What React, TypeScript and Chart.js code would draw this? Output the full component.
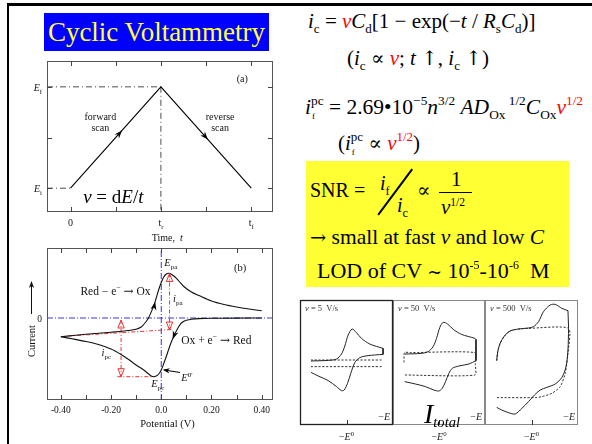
import React, { useEffect, useRef } from "react";
import { Chart, registerables } from "chart.js";

Chart.register(...registerables);

const SERIF = '"Liberation Serif", "Times New Roman", Times, "DejaVu Serif", serif';
const SYM = '"DejaVu Serif", "Liberation Serif", serif';

// ===== (a) triangular potential waveform =====
const waveTimes = [0, 1, 2]; // 0, t_r, t_f
const wavePotentials = [0, 2, 0]; // E_i -> E_f -> E_i
const waveTimeTicks = [0, 0.5, 1, 1.5, 2];
const waveTimeLabels = ["0", "", "t_{r}", "", "t_{f}"];
const wavePotentialTicks = [0, 1, 2];
const wavePotentialLabels = ["*E*_{i}", "", "*E*_{f}"];

// ===== (b) cyclic voltammogram =====
const cvForwardE = [-0.40, -0.35, -0.30, -0.25, -0.20, -0.15, -0.10, -0.08, -0.07, -0.06, -0.05, -0.04, -0.03, -0.02, -0.01, 0.0, 0.01, 0.02, 0.03, 0.04, 0.055, 0.07, 0.09, 0.12, 0.15, 0.20, 0.25, 0.30, 0.35, 0.40];
const cvForwardI = [-1.87, -1.75, -1.62, -1.52, -1.42, -1.3, -1.12, -0.9, -0.65, -0.35, 0.05, 0.6, 1.2, 2.0, 2.85, 3.55, 4.1, 4.4, 4.47, 4.38, 4.1, 3.7, 3.15, 2.6, 2.25, 1.7, 1.35, 1.1, 0.9, 0.73];
const cvReverseE = [0.40, 0.30, 0.20, 0.15, 0.12, 0.10, 0.09, 0.08, 0.07, 0.06, 0.05, 0.04, 0.03, 0.02, 0.01, 0.0, -0.01, -0.02, -0.03, -0.04, -0.05, -0.07, -0.10, -0.13, -0.16, -0.20, -0.25, -0.30, -0.35, -0.40];
const cvReverseI = [0.0, -0.01, -0.03, -0.06, -0.12, -0.22, -0.32, -0.5, -0.85, -1.3, -1.8, -2.4, -3.1, -3.85, -4.55, -5.2, -5.6, -5.8, -5.87, -5.8, -5.6, -5.2, -4.7, -4.15, -3.65, -3.1, -2.65, -2.35, -2.1, -1.87];
const cvBaselineE = [-0.37, 0.04];
const cvBaselineI = [-1.8, -1.15];
const cvPeakE = [0.033, -0.16]; // where i_pa and i_pc are measured
const cvPeakTopI = [4.45, -0.2];
const cvPeakBottomI = [-1.2, -5.87];
const cvCathodicGuideE = [-0.175, -0.03];
const cvPotentialTicks = [-0.4, -0.3, -0.2, -0.1, 0, 0.1, 0.2, 0.3, 0.4];
const cvPotentialLabels = ["-0.40", "", "-0.20", "", "0.0", "", "0.20", "", "0.40"];

// ===== scan-rate panels (normalised 0-100 units) =====
const panelRates = ["5", "50", "500"];
const p5ForwardE = [11.8, 30.4, 39.3, 44.6, 48.2, 51.8, 56.1, 60.7, 66.1, 75, 89.3];
const p5ForwardI = [51.2, 51.7, 52.8, 56.8, 63.2, 72, 76.8, 73.9, 69.3, 64.8, 61.3];
const p5ReverseE = [89.3, 73.2, 64.3, 58.9, 54.6, 51.1, 47.5, 44.6, 39.3, 30.4, 19.6, 11.8];
const p5ReverseI = [56.5, 55.5, 53.9, 49.9, 41.3, 33.3, 28, 27.5, 30.7, 35.5, 39.2, 42.1];
const p5ChargeUpperE = [11.8, 88.2];
const p5ChargeUpperI = [52, 52];
const p5ChargeLowerE = [11.8, 88.2];
const p5ChargeLowerI = [46.7, 46.7];

const p50ForwardE = [12.7, 30.9, 38.2, 43.6, 47.3, 50.9, 54.5, 59.3, 65.5, 74.5, 89.1, 90.2];
const p50ForwardI = [56.8, 57.3, 58.7, 62.7, 69.3, 78.1, 82.1, 80.8, 76.5, 72.5, 69.3, 68.5];
const p50ReverseE = [90.2, 82.5, 71.6, 64.4, 60.7, 57.1, 53.5, 49.8, 44.4, 35.3, 24.4, 12.7];
const p50ReverseI = [51.5, 48.8, 47.2, 45.3, 41.3, 34.7, 29.3, 27.2, 28, 30.7, 32.8, 34.7];
const p50ChargeE = [12, 12.5, 20, 89.1, 89.4, 89.1, 12];
const p50ChargeI = [50, 57.9, 57.9, 57.9, 49, 40, 40];

const p500ForwardE = [12.6, 13.7, 16.2, 20.9, 27, 36, 46.8, 52.2, 57.6, 62.9, 70.1, 75.5, 82.7, 89.2];
const p500ForwardI = [51.5, 58.7, 65.3, 71.2, 75.2, 76.8, 77.6, 78.7, 82.7, 90.7, 96, 96.5, 93.3, 91.5];
const p500ReverseE = [89.9, 89.2, 87.1, 82.7, 75.5, 66.5, 59.4, 53.2, 46.8, 39.6, 32.4, 25.2, 18, 12.6];
const p500ReverseI = [77.3, 60, 46.7, 38.1, 32.8, 30.1, 28, 24, 18.7, 13.3, 8.8, 9.9, 12, 14.1];
const p500ChargeE = [12.6, 13.7, 16.2, 20.9, 27, 36, 46.8, 89.9, 89.2, 86.3, 80.9, 71.9, 61.2, 54, 12.6];
const p500ChargeI = [51.5, 58.7, 65.3, 71.2, 75.2, 76.8, 77.3, 77.3, 57.3, 41.3, 30.7, 25.3, 22.7, 21.9, 21.9];
const panelE0 = 50;

// ===== helpers =====
type Pt = { x: number; y: number };
const zip = (xs: number[], ys: number[]): Pt[] => xs.map((x, i) => ({ x, y: ys[i] }));
const DASHDOT = [6, 3, 1, 3];

function lineDs(data: Pt[], color: string, width = 1, dash: number[] = [], tension = 0) {
  return { data, borderColor: color, borderWidth: width, borderDash: dash, pointRadius: 0, showLine: true, fill: false, tension };
}

function baseOptions(xmin: number, xmax: number, ymin: number, ymax: number, padding: any) {
  return {
    animation: false,
    responsive: false,
    devicePixelRatio: 1,
    events: [],
    layout: { padding },
    plugins: { legend: { display: false }, tooltip: { enabled: false } },
    scales: {
      x: { type: "linear", min: xmin, max: xmax, display: false },
      y: { type: "linear", min: ymin, max: ymax, display: false },
    },
  } as any;
}

type Seg = { text: string; mode: number; italic: boolean; sym: boolean };
function parseRich(s: string): Seg[] {
  const segs: Seg[] = [];
  let italic = false;
  let buf = "";
  let i = 0;
  const flush = () => {
    if (buf) segs.push({ text: buf, mode: 0, italic, sym: false });
    buf = "";
  };
  while (i < s.length) {
    const c = s[i];
    if (c === "*") {
      flush();
      italic = !italic;
      i++;
      continue;
    }
    if (c === "→") {
      flush();
      segs.push({ text: c, mode: 0, italic: false, sym: true });
      i++;
      continue;
    }
    if ((c === "_" || c === "^") && s[i + 1] === "{") {
      flush();
      const end = s.indexOf("}", i);
      segs.push({ text: s.slice(i + 2, end), mode: c === "_" ? 1 : 2, italic: false, sym: false });
      i = end + 1;
      continue;
    }
    buf += c;
    i++;
  }
  flush();
  return segs;
}

function drawRich(ctx: CanvasRenderingContext2D, s: string, x: number, y: number, size: number, align = "left", color = "#111") {
  const segs = parseRich(s);
  const font = (g: Seg) =>
    g.sym ? `${size * 1.05}px ${SYM}` : `${g.italic ? "italic " : ""}${g.mode ? size * 0.68 : size}px ${SERIF}`;
  let w = 0;
  segs.forEach((g) => {
    ctx.font = font(g);
    w += ctx.measureText(g.text).width;
  });
  let cx = align === "center" ? x - w / 2 : align === "right" ? x - w : x;
  ctx.save();
  ctx.fillStyle = color;
  ctx.textAlign = "left";
  ctx.textBaseline = "alphabetic";
  segs.forEach((g) => {
    ctx.font = font(g);
    const dy = g.mode === 1 ? size * 0.28 : g.mode === 2 ? -size * 0.42 : 0;
    ctx.fillText(g.text, cx, y + dy);
    cx += ctx.measureText(g.text).width;
  });
  ctx.restore();
}

function seg(ctx: CanvasRenderingContext2D, x1: number, y1: number, x2: number, y2: number) {
  ctx.beginPath();
  ctx.moveTo(x1, y1);
  ctx.lineTo(x2, y2);
  ctx.stroke();
}

function arrowHead(ctx: CanvasRenderingContext2D, tx: number, ty: number, fx: number, fy: number, len = 8, half = 3, color = "#000") {
  const a = Math.atan2(ty - fy, tx - fx);
  const c = Math.cos(a), s = Math.sin(a);
  const bx = tx - len * c, by = ty - len * s;
  ctx.save();
  ctx.fillStyle = color;
  ctx.beginPath();
  ctx.moveTo(tx, ty);
  ctx.lineTo(bx - half * s, by + half * c);
  ctx.lineTo(tx - 0.7 * len * c, ty - 0.7 * len * s);
  ctx.lineTo(bx + half * s, by - half * c);
  ctx.closePath();
  ctx.fill();
  ctx.restore();
}

function hollowTri(ctx: CanvasRenderingContext2D, x: number, tipY: number, dir: number) {
  // dir -1: points up, +1: points down
  ctx.save();
  ctx.strokeStyle = "#e33";
  ctx.lineWidth = 1;
  ctx.setLineDash([]);
  ctx.beginPath();
  ctx.moveTo(x, tipY);
  ctx.lineTo(x - 3.2, tipY - dir * 8);
  ctx.lineTo(x + 3.2, tipY - dir * 8);
  ctx.closePath();
  ctx.stroke();
  ctx.restore();
}

// ===== plugins =====
const waveDecor = {
  id: "waveDecor",
  afterDraw(chart: any) {
    const { ctx, chartArea: a, scales } = chart;
    const X = (v: number) => scales.x.getPixelForValue(v);
    const Y = (v: number) => scales.y.getPixelForValue(v);
    ctx.save();
    ctx.strokeStyle = "#555";
    ctx.lineWidth = 1;
    ctx.strokeRect(a.left + 0.5, a.top + 0.5, a.right - a.left - 1, a.bottom - a.top - 1);
    ctx.strokeStyle = "#444";
    waveTimeTicks.forEach((t) => {
      const px = Math.round(X(t)) + 0.5;
      seg(ctx, px, a.top, px, a.top + 5);
      seg(ctx, px, a.bottom, px, a.bottom - 5);
    });
    wavePotentialTicks.forEach((e) => {
      const py = Math.round(Y(e)) + 0.5;
      seg(ctx, a.left, py, a.left + 5, py);
      seg(ctx, a.right, py, a.right - 5, py);
    });
    waveTimeLabels.forEach((lab, i) => {
      if (lab) drawRich(ctx, lab, X(waveTimeTicks[i]), a.bottom + 14, 10, "center");
    });
    wavePotentialLabels.forEach((lab, i) => {
      if (lab) drawRich(ctx, lab, a.left - 5, Y(wavePotentialTicks[i]) + 4, 10, "right");
    });
    drawRich(ctx, "Time,  *t*", X(1.07), a.bottom + 29, 10, "center");
    drawRich(ctx, "forward", X(0.33), Y(1.34), 10, "center");
    drawRich(ctx, "scan", X(0.33), Y(1.12), 10, "center");
    drawRich(ctx, "reverse", X(1.655), Y(1.34), 10, "center");
    drawRich(ctx, "scan", X(1.655), Y(1.12), 10, "center");
    drawRich(ctx, "(a)", X(1.9), Y(2.09), 10, "center");
    drawRich(ctx, "*v* = d*E*/*t*", X(0.14), Y(-0.3), 19, "left", "#000");
    const Ef = wavePotentials[1];
    arrowHead(ctx, X(0.57), Y(Ef * 0.57), X(0), Y(0));
    arrowHead(ctx, X(1.52), Y(Ef * (2 - 1.52)), X(1), Y(Ef));
    ctx.restore();
  },
};

const cvDecor = {
  id: "cvDecor",
  afterDraw(chart: any) {
    const { ctx, chartArea: a, scales } = chart;
    const X = (v: number) => scales.x.getPixelForValue(v);
    const Y = (v: number) => scales.y.getPixelForValue(v);
    ctx.save();
    ctx.strokeStyle = "#555";
    ctx.lineWidth = 1;
    ctx.strokeRect(a.left + 0.5, a.top + 0.5, a.right - a.left - 1, a.bottom - a.top - 1);
    ctx.strokeStyle = "#444";
    cvPotentialTicks.forEach((e) => {
      const px = Math.round(X(e)) + 0.5;
      seg(ctx, px, a.top, px, a.top + 5);
      seg(ctx, px, a.bottom, px, a.bottom - 5);
    });
    cvPotentialLabels.forEach((lab, i) => {
      if (lab) drawRich(ctx, lab, X(cvPotentialTicks[i]), a.bottom + 13, 9.5, "center");
    });
    drawRich(ctx, "0", a.left - 5, Y(0) + 3.5, 9.5, "right");
    drawRich(ctx, "Potential (V)", X(0.025), a.bottom + 27, 10.5, "center");
    // y-axis title with arrow
    ctx.save();
    ctx.translate(25, Y(-2.3));
    ctx.rotate(-Math.PI / 2);
    drawRich(ctx, "Current", 0, 0, 10.5, "center");
    ctx.restore();
    ctx.strokeStyle = "#111";
    seg(ctx, 21.5, Y(0.4), 21.5, Y(3.6));
    arrowHead(ctx, 21.5, Y(3.6) - 1, 21.5, Y(0.4), 7, 2.6, "#111");
    // peak markers
    cvPeakE.forEach((e, k) => {
      hollowTri(ctx, X(e), Y(cvPeakTopI[k]), -1);
      hollowTri(ctx, X(e), Y(cvPeakBottomI[k]), 1);
    });
    // direction arrows on the curve
    arrowHead(ctx, X(-0.024), Y(1.6), X(-0.036), Y(0.3));
    arrowHead(ctx, X(0.046), Y(-2.1), X(0.058), Y(-1.3));
    // E0' pointer
    ctx.strokeStyle = "#000";
    seg(ctx, X(0.075), Y(-5.45), X(0.012), Y(-5.2));
    arrowHead(ctx, X(0.006), Y(-5.17), X(0.075), Y(-5.45), 7, 2.6);
    // labels
    drawRich(ctx, "*E*_{pa}", X(0.012), Y(5.2), 10.5, "left");
    drawRich(ctx, "(b)", X(0.314), Y(4.7), 10.5, "center");
    drawRich(ctx, "Red − e^{−} → Ox", X(-0.322), Y(2.3), 11.5, "left");
    drawRich(ctx, "*i*_{pa}", X(0.047), Y(1.6), 10.5, "left");
    drawRich(ctx, "Ox + e^{−} → Red", X(0.0795), Y(-2.55), 11.5, "left");
    drawRich(ctx, "*i*_{pc}", X(-0.238), Y(-3.8), 10.5, "left");
    drawRich(ctx, "*E*^{0'}", X(0.0795), Y(-6.3), 10.5, "left");
    drawRich(ctx, "*E*_{pc}", X(-0.04), Y(-6.9), 10.5, "left");
    ctx.restore();
  },
};

function panelDecor(idx: number, frameColor: string, frameWidth: number) {
  return {
    id: "panelDecor" + idx,
    afterDraw(chart: any) {
      const { ctx, chartArea: a, scales } = chart;
      const X = (v: number) => scales.x.getPixelForValue(v);
      ctx.save();
      ctx.strokeStyle = frameColor;
      ctx.lineWidth = frameWidth;
      ctx.strokeRect(a.left + 0.5, a.top + 0.5, a.right - a.left - 1, a.bottom - a.top - 1);
      ctx.strokeStyle = "#333";
      ctx.lineWidth = 1;
      const px = Math.round(X(panelE0)) + 0.5;
      seg(ctx, px, a.bottom, px, a.bottom - 5);
      drawRich(ctx, `*v* = ${panelRates[idx]}  V/s`, a.left + 5, a.top + 11, 8.5, "left", "#333");
      drawRich(ctx, "−*E*", a.right - 3, a.bottom - 5, 10, "right", "#222");
      drawRich(ctx, "−*E*^{0}", X(panelE0), a.bottom + 15, 10, "center", "#222");
      ctx.restore();
    },
  };
}

function makePanel(canvas: HTMLCanvasElement, idx: number, fE: number[], fI: number[], rE: number[], rI: number[], dashed: Pt[][], frameColor: string, frameWidth: number) {
  const solid = "#222";
  const DSH = [2.2, 1.6];
  const fw = zip(fE, fI);
  const rv = zip(rE, rI);
  return new Chart(canvas, {
    type: "scatter",
    data: {
      datasets: [
        lineDs(fw, solid, 1, [], 0.3),
        lineDs([fw[fw.length - 1], rv[0]], solid, 1),
        lineDs(rv, solid, 1, [], 0.3),
        ...dashed.map((d) => lineDs(d, "#333", 1, DSH, 0.2)),
      ],
    },
    options: baseOptions(0, 100, 0, 100, { left: 6, right: 6, top: 6, bottom: 19 }),
    plugins: [panelDecor(idx, frameColor, frameWidth)],
  } as any);
}

// ===== HTML text helpers =====
const Txt = ({ x, base, size, children, style }: any) => (
  <div
    style={{
      position: "absolute",
      left: x,
      top: base - 0.8375 * size,
      fontSize: size,
      lineHeight: `${size}px`,
      fontFamily: SERIF,
      whiteSpace: "nowrap",
      color: "#000",
      ...style,
    }}
  >
    {children}
  </div>
);
const Sub = ({ children, s = 0.62 }: any) => (
  <span style={{ fontSize: `${s}em`, position: "relative", top: "0.35em" }}>{children}</span>
);
const Sup = ({ children, s = 0.62 }: any) => (
  <span style={{ fontSize: `${s}em`, position: "relative", top: "-0.7em" }}>{children}</span>
);
const Red = ({ children }: any) => <span style={{ color: "#ff0000" }}>{children}</span>;
const Sym = ({ children, s = 0.95 }: any) => <span style={{ fontFamily: SYM, fontSize: `${s}em` }}>{children}</span>;
const SubSup = ({ sup, sub }: any) => (
  <span style={{ position: "relative", display: "inline-block" }}>
    <Sup>{sup}</Sup>
    <span style={{ position: "absolute", left: 1, top: "0.95em", fontSize: "0.42em" }}>{sub}</span>
  </span>
);

export default function App() {
  const aRef = useRef<HTMLCanvasElement>(null);
  const bRef = useRef<HTMLCanvasElement>(null);
  const p1Ref = useRef<HTMLCanvasElement>(null);
  const p2Ref = useRef<HTMLCanvasElement>(null);
  const p3Ref = useRef<HTMLCanvasElement>(null);

  useEffect(() => {
    const charts: Chart[] = [];
    // (a)
    {
      const xmin = -0.26, xmax = 2.24, ymin = -0.47, ymax = 2.51;
      const Ef = Math.max(...wavePotentials);
      const Ei = wavePotentials[0];
      const tr = waveTimes[1];
      charts.push(
        new Chart(aRef.current!, {
          type: "scatter",
          data: {
            datasets: [
              lineDs(zip(waveTimes, wavePotentials), "#000", 1.1),
              lineDs([{ x: xmin, y: Ef }, { x: tr, y: Ef }], "#222", 0.8, DASHDOT),
              lineDs([{ x: xmin, y: Ei }, { x: waveTimes[0], y: Ei }], "#222", 0.8, DASHDOT),
              lineDs([{ x: tr, y: Ef }, { x: tr, y: ymin }], "#222", 0.8, DASHDOT),
            ],
          },
          options: baseOptions(xmin, xmax, ymin, ymax, { left: 37, right: 22, top: 6, bottom: 33 }),
          plugins: [waveDecor],
        } as any)
      );
    }
    // (b)
    {
      const xmin = -0.455, xmax = 0.445, ymin = -8.2, ymax = 7.0;
      const BLUE = "#3535dd";
      const RED = "#e33";
      const RDASH = [4, 2, 1, 2];
      charts.push(
        new Chart(bRef.current!, {
          type: "scatter",
          data: {
            datasets: [
              lineDs(zip(cvForwardE, cvForwardI), "#111", 1.1, [], 0.3),
              lineDs(zip(cvReverseE, cvReverseI), "#111", 1.1, [], 0.3),
              lineDs([{ x: xmin, y: 0 }, { x: xmax, y: 0 }], BLUE, 1, [6, 2, 1, 2]),
              lineDs([{ x: 0, y: ymin }, { x: 0, y: ymax }], BLUE, 1, [6, 2, 1, 2]),
              lineDs(zip(cvBaselineE, cvBaselineI), RED, 1, RDASH),
              lineDs(zip(cvCathodicGuideE, [cvPeakBottomI[1], cvPeakBottomI[1]]), RED, 1, RDASH),
              ...cvPeakE.map((e, k) => lineDs([{ x: e, y: cvPeakTopI[k] }, { x: e, y: cvPeakBottomI[k] }], RED, 1, RDASH)),
            ],
          },
          options: baseOptions(xmin, xmax, ymin, ymax, { left: 37, right: 22, top: 8, bottom: 35 }),
          plugins: [cvDecor],
        } as any)
      );
    }
    charts.push(
      makePanel(p1Ref.current!, 0, p5ForwardE, p5ForwardI, p5ReverseE, p5ReverseI,
        [zip(p5ChargeUpperE, p5ChargeUpperI), zip(p5ChargeLowerE, p5ChargeLowerI)], "#222", 1.3)
    );
    charts.push(
      makePanel(p2Ref.current!, 1, p50ForwardE, p50ForwardI, p50ReverseE, p50ReverseI,
        [zip(p50ChargeE, p50ChargeI)], "#888", 1)
    );
    charts.push(
      makePanel(p3Ref.current!, 2, p500ForwardE, p500ForwardI, p500ReverseE, p500ReverseI,
        [zip(p500ChargeE, p500ChargeI)], "#888", 1)
    );
    return () => charts.forEach((c) => c.destroy());
  }, []);

  return (
    <div style={{ position: "fixed", left: 0, top: 0, width: 592, height: 444, background: "#fff", overflow: "hidden", fontFamily: SERIF }}>
      {/* slide frame */}
      <div style={{ position: "absolute", left: 7, top: 3, width: 585, height: 3, background: "#000" }} />
      <div style={{ position: "absolute", left: 7, top: 3, width: 2, height: 441, background: "#000" }} />
      {/* title */}
      <div
        style={{
          position: "absolute", left: 44, top: 13, width: 225, height: 38, background: "#0000ff",
          color: "#ffff33", fontSize: 27, lineHeight: "38px", textAlign: "center", fontFamily: SERIF, whiteSpace: "nowrap",
        }}
      >
        Cyclic Voltammetry
      </div>

      <canvas ref={aRef} width={285} height={190} style={{ position: "absolute", left: 10, top: 55 }} />
      <canvas ref={bRef} width={285} height={195} style={{ position: "absolute", left: 10, top: 240 }} />
      <canvas ref={p3Ref} width={105} height={150} style={{ position: "absolute", left: 479, top: 294 }} />
      <canvas ref={p2Ref} width={104} height={150} style={{ position: "absolute", left: 387, top: 294 }} />
      <canvas ref={p1Ref} width={105} height={150} style={{ position: "absolute", left: 294, top: 294 }} />

      <Txt x={424} base={423} size={28} style={{ fontStyle: "italic" }}>
        I<span style={{ fontSize: "0.52em", position: "relative", top: "0.3em" }}>total</span>
      </Txt>

      {/* equations */}
      <Txt x={308} base={29} size={21}>
        <i>i</i><Sub>c</Sub> = <Red><i>v</i></Red><i>C</i><Sub>d</Sub>[1 − exp(−<i>t</i> / <i>R</i><Sub>s</Sub><i>C</i><Sub>d</Sub>)]
      </Txt>
      <Txt x={347} base={66} size={21}>
        (<i>i</i><Sub>c</Sub> <Sym>∝</Sym> <Red><i>v</i></Red>; <i>t</i> <Sym>↑</Sym>, <i>i</i><Sub>c</Sub> <Sym>↑</Sym>)
      </Txt>
      <Txt x={305} base={115} size={21.5}>
        <i>i</i><SubSup sup="pc" sub="f" /> = 2.69•10<Sup>−5</Sup><i>n</i><Sup>3/2</Sup> <i>AD</i><Sub>Ox</Sub><Sup> 1/2</Sup><i>C</i><Sub>Ox</Sub><Red><i>v</i><Sup>1/2</Sup></Red>
      </Txt>
      <Txt x={338} base={151} size={21}>
        (<i>i</i><SubSup sup="pc" sub="f" /> <Sym>∝</Sym> <Red><i>v</i><Sup>1/2</Sup></Red>)
      </Txt>

      {/* SNR box */}
      <div style={{ position: "absolute", left: 306, top: 161, width: 263, height: 126, background: "#ffff33" }} />
      <Txt x={310} base={197} size={20}>SNR =</Txt>
      <Txt x={380} base={190} size={20}><i>i</i><Sub>f</Sub></Txt>
      <Txt x={397} base={212} size={20}><i>i</i><Sub>c</Sub></Txt>
      <div style={{ position: "absolute", left: 378, top: 214, width: 57, height: 1.6, background: "#000", transformOrigin: "0 50%", transform: "rotate(-53.3deg)" }} />
      <Txt x={417} base={197} size={20}><Sym s={1}>∝</Sym></Txt>
      <Txt x={451} base={187} size={21}>1</Txt>
      <div style={{ position: "absolute", left: 439, top: 192, width: 33, height: 1.4, background: "#000" }} />
      <Txt x={441} base={215} size={21}><i>v</i><Sup s={0.55}>1/2</Sup></Txt>
      <Txt x={310} base={245} size={21.5}><Sym s={0.9}>→</Sym> small at fast <i>v</i> and low <i>C</i></Txt>
      <Txt x={317} base={278} size={22}>LOD of CV <Sym s={0.8}>~</Sym> 10<Sup s={0.55}>-5</Sup>-10<Sup s={0.55}>-6</Sup>&nbsp;&nbsp;M</Txt>
    </div>
  );
}
